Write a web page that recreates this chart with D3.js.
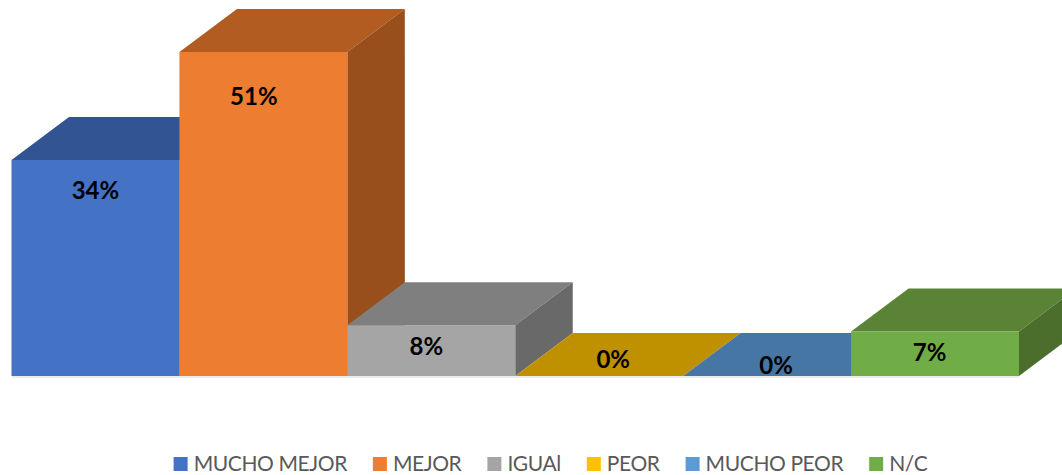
<!DOCTYPE html>
<html>
<head>
<meta charset="utf-8">
<script src="https://cdnjs.cloudflare.com/ajax/libs/d3/7.8.5/d3.min.js"></script>
<style>
html, body { margin: 0; padding: 0; background: #fff; overflow: hidden; }
svg { display: block; }
text { font-family: Lato, "Open Sans", sans-serif; }
</style>
</head>
<body>
<div id="chart"></div>
<script>
// Chart values
var categories = ["MUCHO MEJOR", "MEJOR", "IGUAl", "PEOR", "MUCHO PEOR", "N/C"];
var values = [34, 51, 8, 0, 0, 7];

// Face colours per bar
var frontColors = ["#4472C4", "#ED7D31", "#A5A5A5", "#FFC000", "#5B9BD5", "#70AD47"];
var topColors = ["#325492", "#B25C21", "#7F7F7F", "#BF9000", "#4676A3", "#5A8336"];
var sideColors = ["#2B4A80", "#984F1B", "#696969", "#A67C00", "#3D688F", "#4B6E2C"];

var svgWidth = 1062;
var svgHeight = 475;

// Baseline and plot extent
var margin = {top: 52, left: 11.5, right: 43, bottom: 99};
var depthX = 57.5;
var depthY = 43;

// Labels were moved by hand in the original, so nudge them from the bar's top centre
var labelDx = [0, -9.5, -5, 14, 9, -5.5];
var labelDy = [39, 53, 30, -8, -2, 29];

var svg = d3.select("#chart")
    .append("svg")
    .attr("width", svgWidth)
    .attr("height", svgHeight)
    .attr("viewBox", `0 0 ${svgWidth} ${svgHeight}`);

var xScale = d3.scaleBand()
    .domain(categories)
    .range([margin.left, svgWidth - margin.right])
    .padding(0);

var yScale = d3.scaleLinear()
    .domain([0, d3.max(values)])
    .range([svgHeight - margin.bottom, margin.top]);

var bars = categories.map(function(c, i) {
    var x0 = xScale(c);
    return {
        i: i,
        x0: x0,
        x1: x0 + xScale.bandwidth(),
        yTop: yScale(values[i]),
        yBase: yScale(0)
    };
});

function poly(points) {
    return "M" + points.map(p => p.join(",")).join("L") + "Z";
}

// Baseline
svg.append("g")
    .attr("transform", `translate(0, ${yScale(0) + 0.5})`)
    .call(d3.axisBottom(xScale).tickSize(0).tickFormat(""))
    .select(".domain")
    .attr("stroke", "#d9d9d9");

// Each bar is top, side and front, drawn left to right so the next bar covers the previous side
var barGroups = svg.selectAll(".bar")
    .data(bars)
    .enter()
    .append("g")
    .attr("class", "bar");

barGroups.append("path")
    .attr("fill", d => topColors[d.i])
    .attr("d", d => poly([[d.x0, d.yTop], [d.x1, d.yTop], [d.x1 + depthX, d.yTop - depthY], [d.x0 + depthX, d.yTop - depthY]]));

barGroups.append("path")
    .attr("fill", d => sideColors[d.i])
    .attr("d", d => poly([[d.x1, d.yTop], [d.x1 + depthX, d.yTop - depthY], [d.x1 + depthX, d.yBase - depthY], [d.x1, d.yBase]]));

barGroups.append("rect")
    .attr("fill", d => frontColors[d.i])
    .attr("x", d => d.x0)
    .attr("y", d => d.yTop)
    .attr("width", xScale.bandwidth())
    .attr("height", d => d.yBase - d.yTop);

// Data labels
svg.selectAll(".dotlabel")
    .data(bars)
    .enter()
    .append("text")
    .attr("class", "dotlabel")
    .attr("x", d => (d.x0 + d.x1) / 2 + labelDx[d.i])
    .attr("y", d => d.yTop + labelDy[d.i])
    .attr("text-anchor", "middle")
    .attr("font-size", "24px")
    .attr("font-weight", "bold")
    .attr("fill", "#000")
    .text(d => values[d.i] + "%");

// Legend, laid out from the measured text widths
var legend = svg.append("g");
var legendX = 0;
var swatch = 14;
var swatchGap = 6;
var itemGap = 26;

categories.forEach(function(c, i) {
    var item = legend.append("g").attr("transform", `translate(${legendX}, 457)`);
    item.append("rect")
        .attr("width", swatch)
        .attr("height", swatch)
        .attr("fill", frontColors[i]);
    var label = item.append("text")
        .attr("x", swatch + swatchGap)
        .attr("y", 14)
        .attr("font-size", "21px")
        .attr("letter-spacing", "-0.4px")
        .attr("fill", "#595959")
        .text(c);
    legendX += swatch + swatchGap + label.node().getComputedTextLength() + itemGap;
});

legend.attr("transform", `translate(${550.5 - (legendX - itemGap) / 2}, 0)`);
</script>
</body>
</html>
